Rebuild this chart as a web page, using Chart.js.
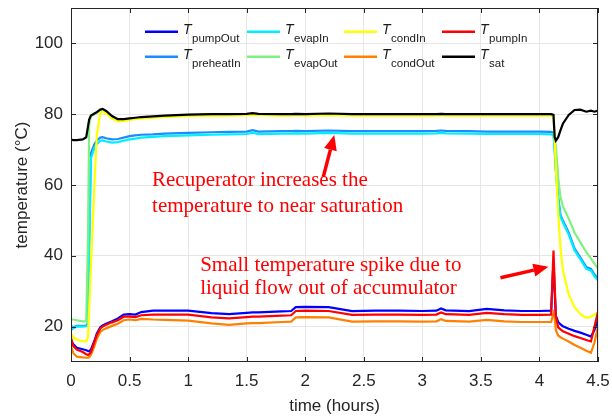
<!DOCTYPE html>
<html>
<head>
<meta charset="utf-8">
<script src="https://cdn.jsdelivr.net/npm/chart.js@4.4.1/dist/chart.umd.min.js"></script>
<style>
  html, body { margin: 0; padding: 0; background: #fff; }
  #wrap { width: 612px; height: 420px; }
</style>
</head>
<body>
<div id="wrap"><canvas id="tempChart" width="612" height="420"></canvas></div>
<script>
// time axis (hours), shared by all the sensors
const hours = [0, 0.02, 0.05, 0.1, 0.13, 0.145, 0.155, 0.17, 0.2, 0.22,
  0.25, 0.27, 0.3, 0.35, 0.4, 0.45, 0.5, 0.55, 0.6, 0.7,
  0.8, 1.0, 1.2, 1.35, 1.5, 1.55, 1.6, 1.8, 1.88, 1.92,
  2.0, 2.2, 2.4, 2.6, 2.8, 3.0, 3.12, 3.16, 3.2, 3.4,
  3.55, 3.7, 3.85, 4.0, 4.1, 4.12, 4.13, 4.14, 4.16, 4.18,
  4.2, 4.25, 4.3, 4.35, 4.4, 4.44, 4.47, 4.5];

// temperatures (deg C)
const tPumpOut = [16, 15, 14, 13.6, 13.3, 13.1, 13, 13.5, 16, 18,
  19.8, 20.3, 20.8, 21.5, 22.3, 23.4, 23.5, 23.4, 24.1, 24.5,
  24.5, 24.5, 23.8, 23.5, 23.9, 24, 24, 24.3, 24.4, 25.5,
  25.6, 25.5, 24.4, 24.5, 24.5, 24.4, 24.5, 25.1, 24.6, 24.4,
  25, 24.6, 24.4, 24.4, 24.5, 38.5, 30, 23, 21.3, 20.6,
  20.1, 19.4, 18.8, 18.3, 17.7, 17.2, 19, 22];
const tPreheatIn = [19, 19.8, 20.2, 20.2, 20.3, 21, 45, 69, 71.5, 72.6,
  73.4, 73.5, 73.2, 72.9, 73, 73.4, 73.8, 74, 74.2, 74.3,
  74.5, 74.7, 74.9, 75, 75.1, 75.5, 75.1, 75.2, 75.2, 75.3,
  75.2, 75.4, 75.2, 75.2, 75.2, 75.2, 75.3, 75.4, 75.3, 75.2,
  75.1, 75.1, 75.1, 75.1, 75, 74.8, 70.5, 64.5, 56.5, 51.5,
  50, 46.5, 42, 39.5, 36.8, 36.3, 34.7, 33.5];
const tEvapIn = [20.5, 19.5, 20, 20, 20.1, 20.5, 42, 67.5, 70.5, 71.6,
  72.5, 72.6, 72.3, 72, 72.1, 72.5, 72.9, 73.1, 73.4, 73.6,
  73.8, 74, 74.2, 74.3, 74.4, 74.8, 74.4, 74.5, 74.5, 74.6,
  74.5, 74.7, 74.5, 74.5, 74.5, 74.5, 74.6, 74.7, 74.6, 74.5,
  74.4, 74.4, 74.4, 74.4, 74.3, 74.1, 70, 64, 56, 51,
  49.5, 46, 41.5, 39, 36.3, 35.8, 34.2, 33];
const tEvapOut = [22, 22, 21.8, 21.5, 21.5, 45, 77, 79.4, 80, 80.4,
  81.1, 81.3, 80.7, 79.3, 78.4, 78.4, 78.6, 78.8, 79, 79.2,
  79.4, 79.7, 79.8, 79.8, 79.9, 80.1, 79.9, 79.8, 79.8, 79.9,
  79.8, 80, 79.8, 79.8, 79.8, 79.8, 79.8, 79.9, 79.8, 79.8,
  79.8, 79.8, 79.8, 79.8, 79.8, 79.6, 73, 71, 62, 56.5,
  54, 50.5, 46.5, 43.8, 41, 39.2, 37.8, 36.3];
const tCondIn = [18, 17, 16.3, 15.9, 15.8, 17, 25, 37, 60, 74,
  80.3, 80.8, 80.2, 78.8, 78, 78.1, 78.4, 78.6, 78.8, 79,
  79.2, 79.5, 79.6, 79.6, 79.7, 79.8, 79.7, 79.6, 79.6, 79.7,
  79.6, 79.7, 79.6, 79.6, 79.6, 79.6, 79.6, 79.7, 79.6, 79.6,
  79.6, 79.6, 79.6, 79.6, 79.6, 79.4, 73, 65, 52, 42,
  36, 29, 25.5, 23.5, 22.5, 22.8, 23.4, 24];
const tCondOut = [14.5, 12.5, 11.5, 11.3, 11.2, 11.2, 11.4, 12, 14.5, 16.5,
  18.5, 19, 19.5, 20.2, 20.8, 21.8, 22, 21.8, 22.2, 22,
  21.9, 21.7, 20.9, 20.5, 20.9, 21, 21, 21.3, 21.4, 22.6,
  22.7, 22.6, 21.4, 21.5, 21.5, 21.4, 21.5, 22.1, 21.6, 21.4,
  21.9, 21.5, 21.3, 21.3, 21.3, 23.8, 22.5, 19, 17.5, 17,
  16.6, 15.8, 14.8, 14, 13.2, 12.6, 15.5, 20];
const tPumpIn = [16.8, 14.5, 13.5, 12.8, 12.2, 12, 12.2, 12.8, 15.7, 17.6,
  19.5, 20, 20.5, 21.2, 21.8, 22.8, 22.8, 22.7, 23.2, 23.4,
  23.4, 23.4, 22.6, 22.3, 22.7, 22.8, 22.8, 23.1, 23.2, 24.4,
  24.5, 24.4, 23.3, 23.4, 23.4, 23.3, 23.4, 24, 23.5, 23.3,
  23.9, 23.5, 23.3, 23.3, 23.4, 41.5, 32, 23, 19.8, 19.2,
  18.7, 18, 17.3, 16.8, 16.2, 15.8, 20, 24.2];
const tSat = [72.8, 72.7, 72.7, 72.9, 73.5, 76.5, 78.5, 79.6, 80.2, 80.6,
  81.3, 81.5, 80.9, 79.5, 78.6, 78.6, 78.8, 79, 79.2, 79.4,
  79.6, 79.9, 80, 80, 80.1, 80.3, 80.1, 80, 80, 80.1,
  80, 80.2, 80, 80, 80, 80, 80, 80.1, 80, 80,
  80, 80, 80, 80, 80, 79.8, 73.5, 72.5, 73.5, 75.5,
  77.3, 79.8, 81.2, 81.3, 80.7, 81, 80.7, 81];

// plotting order (legend fills column by column)
const seriesNames = ["pumpOut", "preheatIn", "evapIn", "evapOut", "condIn", "condOut", "pumpIn", "sat"];
const seriesValues = [tPumpOut, tPreheatIn, tEvapIn, tEvapOut, tCondIn, tCondOut, tPumpIn, tSat];
const seriesColors = ["#0000ff", "#1a8cff", "#00eeff", "#80f080", "#ffff00", "#ff8000", "#ff0000", "#000000"];

const xTicks = [0, 0.5, 1, 1.5, 2, 2.5, 3, 3.5, 4, 4.5];
const yTicks = [20, 40, 60, 80, 100];

// annotations: [hours, temperature] anchors
const note1 = ["Recuperator increases the", "temperature to near saturation"];
const note1At = [0.692, 59.7, 52.4];
const arrow1 = [2.154, 62.3, 2.248, 74.1];
const note2 = ["Small temperature spike due to", "liquid flow out of accumulator"];
const note2At = [1.103, 35.8, 29.3];
const arrow2 = [3.667, 33.8, 4.077, 36.9];

const sansFont = '"Liberation Sans", Arial, sans-serif';
const serifFont = '"Liberation Serif", "Times New Roman", serif';

function drawArrow(ctx, x0, y0, x1, y1) {
    const ang = Math.atan2(y1 - y0, x1 - x0);
    const hl = 15, hw = 6.5;
    const bx = x1 - hl * Math.cos(ang), by = y1 - hl * Math.sin(ang);
    ctx.lineWidth = 3.5;
    ctx.beginPath();
    ctx.moveTo(x0, y0);
    ctx.lineTo(bx, by);
    ctx.stroke();
    ctx.beginPath();
    ctx.moveTo(x1, y1);
    ctx.lineTo(bx + hw * Math.sin(ang), by - hw * Math.cos(ang));
    ctx.lineTo(bx - hw * Math.sin(ang), by + hw * Math.cos(ang));
    ctx.closePath();
    ctx.fill();
}

// frame, inward ticks, legend with subscripts and the red notes
const extrasPlugin = {
    id: "extras",
    afterDraw(chart) {
        const ctx = chart.ctx;
        const a = chart.chartArea;
        const x = chart.scales.x, y = chart.scales.y;
        ctx.save();

        ctx.strokeStyle = "#262626";
        ctx.lineWidth = 1;
        ctx.strokeRect(a.left + 0.5, a.top + 0.5, a.right - a.left - 1, a.bottom - a.top - 1);
        ctx.beginPath();
        xTicks.forEach(function(v) {
            const px = Math.round(x.getPixelForValue(v)) + 0.5;
            ctx.moveTo(px, a.bottom); ctx.lineTo(px, a.bottom - 5);
            ctx.moveTo(px, a.top); ctx.lineTo(px, a.top + 5);
        });
        yTicks.forEach(function(v) {
            const py = Math.round(y.getPixelForValue(v)) + 0.5;
            ctx.moveTo(a.left, py); ctx.lineTo(a.left + 5, py);
            ctx.moveTo(a.right, py); ctx.lineTo(a.right - 5, py);
        });
        ctx.stroke();

        // legend: 2 rows x 4 columns
        const colX = [a.left + 74, a.left + 176, a.left + 273, a.left + 371];
        const rowY = [a.top + 23.7, a.top + 48.7];
        seriesNames.forEach(function(name, i) {
            const lx = colX[Math.floor(i / 2)], ly = rowY[i % 2];
            ctx.strokeStyle = seriesColors[i];
            ctx.lineWidth = 2.5;
            ctx.beginPath();
            ctx.moveTo(lx, ly);
            ctx.lineTo(lx + 33, ly);
            ctx.stroke();
            ctx.fillStyle = "#1a1a1a";
            ctx.textAlign = "left";
            ctx.textBaseline = "alphabetic";
            ctx.font = "italic 14px " + sansFont;
            ctx.fillText("T", lx + 38, ly + 2.5);
            const tw = ctx.measureText("T").width;
            ctx.font = "11.5px " + sansFont;
            ctx.fillText(name, lx + 38 + tw + 0.5, ly + 10);
        });

        // notes
        ctx.fillStyle = "#ff0000";
        ctx.strokeStyle = "#ff0000";
        ctx.font = "21px " + serifFont;
        ctx.textAlign = "left";
        ctx.textBaseline = "alphabetic";
        ctx.fillText(note1[0], x.getPixelForValue(note1At[0]), y.getPixelForValue(note1At[1]));
        ctx.fillText(note1[1], x.getPixelForValue(note1At[0]), y.getPixelForValue(note1At[2]));
        ctx.fillText(note2[0], x.getPixelForValue(note2At[0]), y.getPixelForValue(note2At[1]));
        ctx.fillText(note2[1], x.getPixelForValue(note2At[0]), y.getPixelForValue(note2At[2]));
        drawArrow(ctx, x.getPixelForValue(arrow1[0]), y.getPixelForValue(arrow1[1]),
            x.getPixelForValue(arrow1[2]), y.getPixelForValue(arrow1[3]));
        drawArrow(ctx, x.getPixelForValue(arrow2[0]), y.getPixelForValue(arrow2[1]),
            x.getPixelForValue(arrow2[2]), y.getPixelForValue(arrow2[3]));

        ctx.restore();
    }
};

new Chart(document.getElementById("tempChart"), {
    type: "line",
    data: {
        datasets: seriesNames.map(function(name, i) {
            return {
                label: "T_" + name,
                data: hours.map(function(h, k) { return { x: h, y: seriesValues[i][k] }; }),
                borderColor: seriesColors[i],
                backgroundColor: seriesColors[i],
                borderWidth: 2.2,
                pointRadius: 0,
                tension: 0,
                fill: false,
                order: seriesNames.length - i
            };
        })
    },
    options: {
        responsive: false,
        animation: false,
        layout: { padding: { left: 0, right: 14, top: 8, bottom: 0 } },
        plugins: { legend: { display: false }, tooltip: { enabled: false } },
        scales: {
            x: {
                type: "linear",
                min: 0,
                max: 4.5,
                afterBuildTicks: function(s) { s.ticks = xTicks.map(function(v) { return { value: v }; }); },
                afterFit: function(s) { s.height = 58; s.paddingLeft = 0; s.paddingRight = 0; },
                ticks: {
                    padding: 9,
                    color: "#262626",
                    font: { family: sansFont, size: 17 },
                    maxRotation: 0,
                    callback: function(v) { return String(v); }
                },
                grid: { color: "#e6e6e6", drawTicks: false },
                border: { display: false },
                title: {
                    display: true,
                    text: "time (hours)",
                    color: "#262626",
                    font: { family: sansFont, size: 17 },
                    padding: { top: 0, bottom: 3 }
                }
            },
            y: {
                min: 10,
                max: 110,
                afterBuildTicks: function(s) { s.ticks = yTicks.map(function(v) { return { value: v }; }); },
                afterFit: function(s) { s.width = 71; s.paddingTop = 0; s.paddingBottom = 0; },
                ticks: {
                    padding: 8,
                    color: "#262626",
                    font: { family: sansFont, size: 17 },
                    callback: function(v) { return String(v); }
                },
                grid: { color: "#e6e6e6", drawTicks: false },
                border: { display: false },
                title: {
                    display: true,
                    text: "temperature (\u00B0C)",
                    color: "#262626",
                    font: { family: sansFont, size: 17 },
                    padding: { top: 12, bottom: 0 }
                }
            }
        }
    },
    plugins: [extrasPlugin]
});
</script>
</body>
</html>
